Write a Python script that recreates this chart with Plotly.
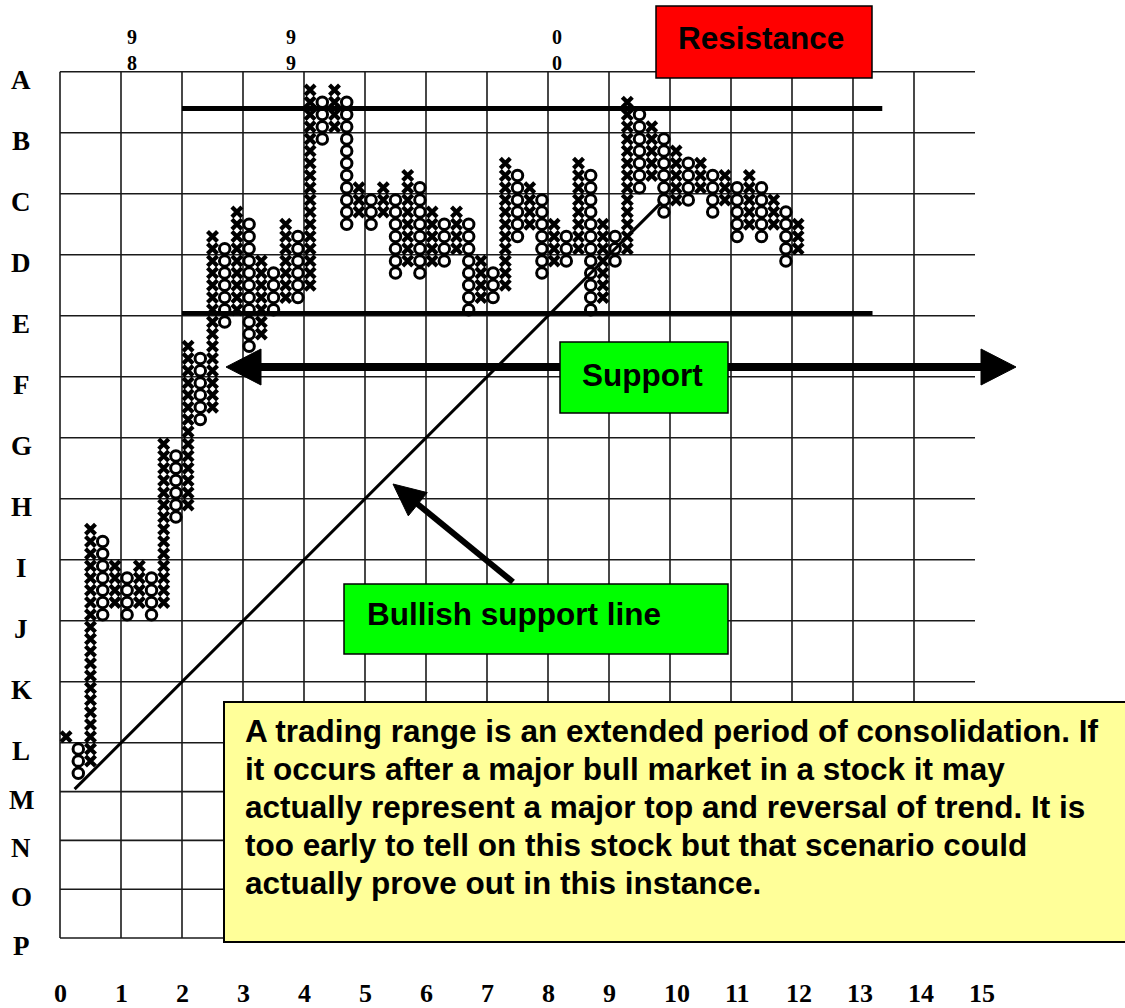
import plotly.graph_objects as go

# ---------------- data ----------------
# one entry per point-and-figure column (box units: 5 boxes per grid cell)
column_kind = ["X", "O", "X", "O", "X", "O", "X", "O", "X", "O",
               "X", "O", "X", "O", "X", "O", "X", "O", "X", "O",
               "X", "O", "X", "O", "X", "O", "X", "O", "X", "O",
               "X", "O", "X", "O", "X", "O", "X", "O", "X", "O",
               "X", "O", "X", "O", "X", "O", "X", "O", "X", "O",
               "X", "O", "X", "O", "X", "O", "X", "O", "X", "O",
               "X"]
column_low = [16, 13, 14, 26, 27, 26, 27, 26, 27, 34,
              35, 42, 43, 50, 51, 48, 49, 51, 52, 52,
              53, 65, 66, 58, 59, 58, 59, 54, 55, 54,
              55, 55, 56, 51, 52, 52, 53, 57, 58, 54,
              55, 55, 56, 51, 52, 55, 56, 61, 62, 59,
              60, 60, 61, 59, 60, 57, 58, 57, 58, 55,
              56]
column_high = [16, 15, 33, 32, 30, 29, 30, 29, 40, 39,
               48, 47, 57, 56, 59, 58, 55, 54, 58, 57,
               69, 68, 69, 68, 61, 60, 61, 60, 62, 61,
               59, 58, 59, 58, 55, 54, 63, 62, 61, 60,
               58, 57, 63, 62, 58, 57, 68, 67, 66, 65,
               64, 63, 63, 62, 62, 61, 62, 61, 60, 59,
               58]

row_labels = ["A", "B", "C", "D", "E", "F", "G", "H",
              "I", "J", "K", "L", "M", "N", "O", "P"]
row_levels = [71, 66, 61, 56, 51, 46, 41, 36, 31, 26, 21, 16, 12, 8, 4, 0]
col_tick_labels = [str(i) for i in range(16)]
col_tick_levels = [0, 5, 10, 15, 20, 25, 30, 35, 40, 45, 50, 55, 60, 65, 70, 75]

year_top_digits = ["9", "9", "0"]
year_bottom_digits = ["8", "9", "0"]
year_columns = [5.9, 18.9, 40.7]

resistance_level = 68.0
resistance_span = [10.0, 67.4]
support_level = 51.2
support_span = [10.0, 66.6]
trend_offset = 11.0          # bullish support line: box = column + offset
trend_span = [1.2, 49.3]

note_lines = [
    "A trading range is an extended period of consolidation. If",
    "it occurs after a major bull market in a stock it may",
    "actually represent a major top and reversal of trend. It is",
    "too early to tell on this stock but that scenario could",
    "actually prove out in this instance.",
]

# ---------------- geometry helpers (layout only) ----------------
PX = 12.2                 # pixels per box
REF_X0, REF_Y0 = 60.0, 938.0
FIG_W, FIG_H = 1125, 1008


def cx(px):
    return (px - REF_X0) / PX


def by(py):
    return (REF_Y0 - py) / PX


def tri_path(pts):
    return "M " + " L ".join(f"{cx(a):.4f},{by(b):.4f}" for a, b in pts) + " Z"


# ---------------- marks ----------------
xs_x, ys_x, xs_o, ys_o = [], [], [], []
for i, (kind, lo, hi) in enumerate(zip(column_kind, column_low, column_high)):
    for b in range(lo, hi + 1):
        if kind == "X":
            xs_x.append(i + 0.5)
            ys_x.append(b + 0.5)
        else:
            xs_o.append(i + 0.5)
            ys_o.append(b + 0.5)

fig = go.Figure()
fig.add_trace(go.Scatter(
    x=trend_span, y=[c + trend_offset for c in trend_span], mode="lines",
    line=dict(color="black", width=3), hoverinfo="skip", showlegend=False))
fig.add_trace(go.Scatter(
    x=xs_o, y=ys_o, mode="markers", showlegend=False, hoverinfo="skip",
    marker=dict(symbol="circle-open", size=10.5, color="black",
                line=dict(color="black", width=3))))
fig.add_trace(go.Scatter(
    x=xs_x, y=ys_x, mode="markers", showlegend=False, hoverinfo="skip",
    marker=dict(symbol="x-thin", size=10, color="black",
                line=dict(color="black", width=4.2))))

shapes = []
grid_top = max(row_levels)
for lvl in col_tick_levels[:-1]:
    shapes.append(dict(type="line", x0=lvl, x1=lvl, y0=0, y1=grid_top,
                       line=dict(color="#1a1a1a", width=1.6), layer="below"))
for lvl in row_levels:
    shapes.append(dict(type="line", x0=0, x1=col_tick_levels[-1], y0=lvl, y1=lvl,
                       line=dict(color="#1a1a1a", width=1.6), layer="below"))
shapes.append(dict(type="line", x0=resistance_span[0], x1=resistance_span[1],
                   y0=resistance_level, y1=resistance_level,
                   line=dict(color="black", width=5), layer="below"))
shapes.append(dict(type="line", x0=support_span[0], x1=support_span[1],
                   y0=support_level, y1=support_level,
                   line=dict(color="black", width=4.5), layer="below"))

# double-headed support arrow
shapes.append(dict(type="line", x0=cx(255), x1=cx(985), y0=by(367), y1=by(367),
                   line=dict(color="black", width=8)))
shapes.append(dict(type="path", path=tri_path([(226, 367), (261, 349), (261, 385)]),
                   fillcolor="black", line=dict(color="black", width=1)))
shapes.append(dict(type="path", path=tri_path([(1016, 367), (981, 349), (981, 385)]),
                   fillcolor="black", line=dict(color="black", width=1)))

# label boxes
shapes.append(dict(type="rect", x0=cx(560), x1=cx(728), y0=by(413), y1=by(342),
                   fillcolor="#00FF00", line=dict(color="black", width=1.5)))
shapes.append(dict(type="rect", x0=cx(656), x1=cx(872), y0=by(78), y1=by(6),
                   fillcolor="#FF0000", line=dict(color="black", width=1.5)))
shapes.append(dict(type="rect", x0=cx(344), x1=cx(728), y0=by(654), y1=by(584),
                   fillcolor="#00FF00", line=dict(color="black", width=1.5)))

# arrow pointing at the bullish support line
tip = (393.0, 484.0)
tail = (513.0, 582.0)
dx, dy = tip[0] - tail[0], tip[1] - tail[1]
ln = (dx * dx + dy * dy) ** 0.5
ux, uy = dx / ln, dy / ln
nx, ny = -uy, ux
head_len, half_w = 32.0, 15.0
base = (tip[0] - ux * head_len, tip[1] - uy * head_len)
shapes.append(dict(type="line", x0=cx(tail[0]), y0=by(tail[1]),
                   x1=cx(base[0] + ux * 4), y1=by(base[1] + uy * 4),
                   line=dict(color="black", width=6)))
shapes.append(dict(type="path", path=tri_path([
    tip, (base[0] + nx * half_w, base[1] + ny * half_w),
    (base[0] - nx * half_w, base[1] - ny * half_w)]),
    fillcolor="black", line=dict(color="black", width=1)))

# note box
shapes.append(dict(type="rect", x0=cx(224), x1=cx(1140), y0=by(942), y1=by(702),
                   fillcolor="#FFFF99", line=dict(color="black", width=2)))

annotations = []
serif = "Liberation Serif, Times New Roman, serif"
sans = "Liberation Sans, Arial, sans-serif"
for lab, lvl in zip(row_labels, row_levels):
    annotations.append(dict(x=cx(21), y=lvl, yshift=-8, text=lab, showarrow=False,
                            xanchor="center", yanchor="middle",
                            font=dict(family=serif, size=27, color="black", weight="bold")))
for lab, lvl in zip(col_tick_labels, col_tick_levels):
    annotations.append(dict(x=lvl, y=by(993), xshift=-8, text=lab, showarrow=False,
                            xanchor="left", yanchor="middle",
                            font=dict(family=serif, size=26, color="black", weight="bold")))
for top, bot, col in zip(year_top_digits, year_bottom_digits, year_columns):
    annotations.append(dict(x=col, y=by(50), text=f"{top}<br>{bot}", showarrow=False,
                            xanchor="center", yanchor="middle", align="center",
                            font=dict(family=serif, size=20, color="black", weight="bold")))

label_font = dict(family=sans, size=31.5, color="black", weight="bold")
annotations.append(dict(x=cx(761), y=by(38), text="Resistance", showarrow=False,
                        xanchor="center", yanchor="middle", font=label_font))
annotations.append(dict(x=cx(642), y=by(375), text="Support", showarrow=False,
                        xanchor="center", yanchor="middle", font=label_font))
annotations.append(dict(x=cx(514), y=by(614), text="Bullish support line", showarrow=False,
                        xanchor="center", yanchor="middle", font=label_font))
for i, line in enumerate(note_lines):
    annotations.append(dict(x=cx(243), y=by(731 + 38 * i), text=line, showarrow=False,
                            xanchor="left", yanchor="middle", font=label_font))

fig.update_layout(
    width=FIG_W, height=FIG_H,
    margin=dict(l=0, r=0, t=0, b=0),
    paper_bgcolor="white", plot_bgcolor="white",
    xaxis=dict(range=[cx(0), cx(FIG_W)], visible=False, fixedrange=True),
    yaxis=dict(range=[by(FIG_H), by(0)], visible=False, fixedrange=True),
    shapes=shapes, annotations=annotations, showlegend=False,
)

fig.write_html(
    "out.html",
    config={"displayModeBar": False},
    post_script="document.body.style.margin='0';document.body.style.overflow='hidden';",
)
